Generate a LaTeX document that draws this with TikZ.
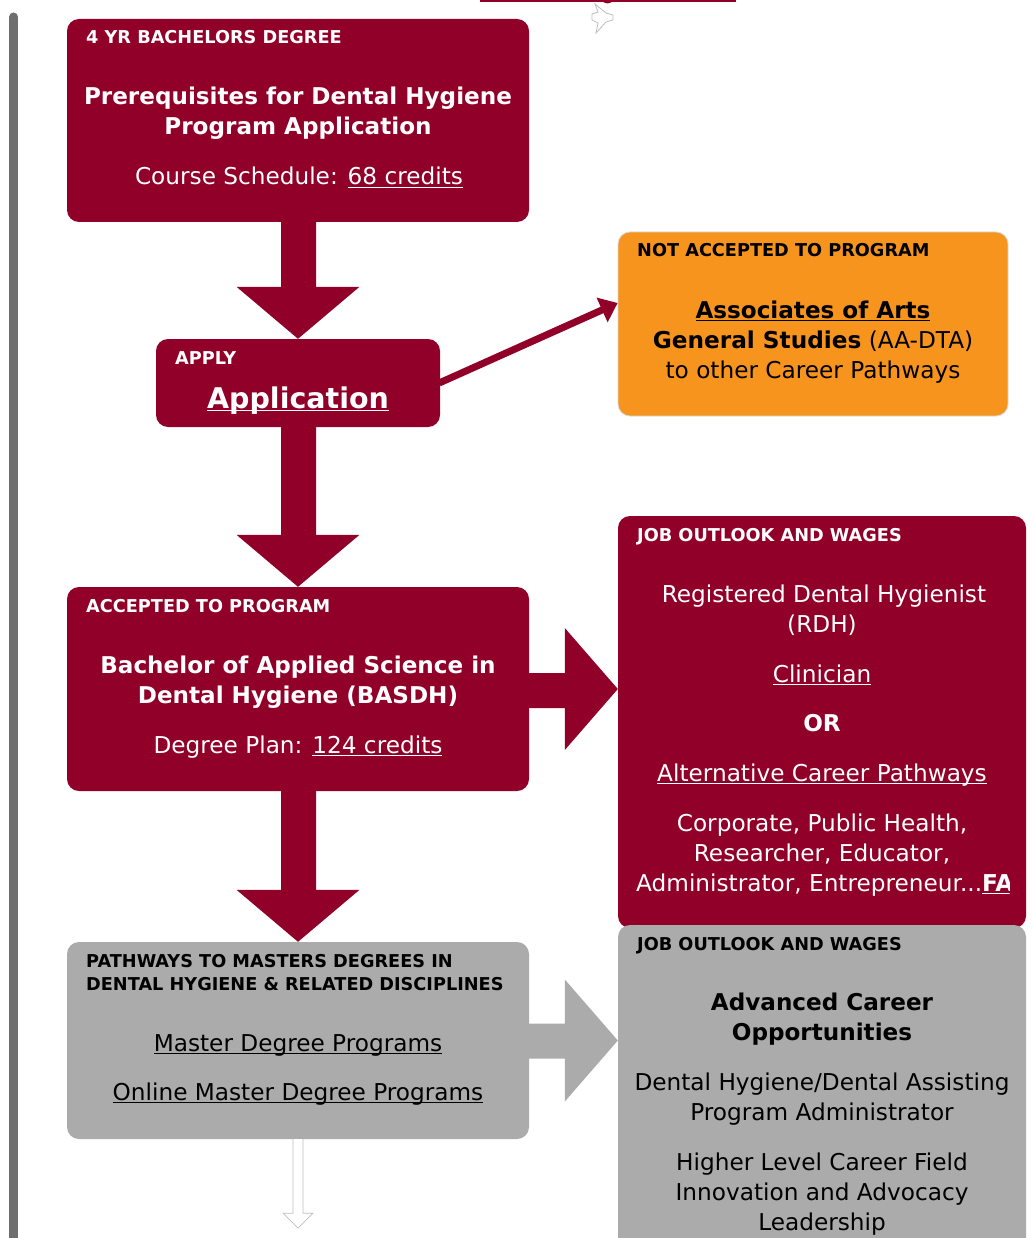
\documentclass[tikz,border=0pt]{standalone}
\usepackage{fontspec}
\setmainfont{DejaVu Sans}
\usetikzlibrary{calc,arrows.meta}
\definecolor{wmaroon}{HTML}{910028}
\definecolor{worange}{HTML}{F7941D}
\definecolor{wgray}{HTML}{ABABAB}
\definecolor{wbar}{HTML}{6E6E6E}
\newsavebox\undlbox
\newcommand\undl[1]{\sbox\undlbox{#1}\rlap{\rule[-3.4pt]{\wd\undlbox}{1.4pt}}\usebox\undlbox}
\tikzset{
  box/.style={rounded corners=12pt, inner sep=0pt, draw=none, minimum width=#1},
  hd/.style={anchor=base west, font=\fontsize{17.7}{21}\selectfont\bfseries, inner sep=0pt},
  tx/.style={anchor=base, font=\fontsize{23.2}{30}\selectfont, inner sep=0pt},
  btx/.style={anchor=base, font=\fontsize{23.1}{30}\selectfont\bfseries, inner sep=0pt},
  bigtx/.style={anchor=base, font=\fontsize{28.5}{34}\selectfont\bfseries, inner sep=0pt},
}
\begin{document}
\begin{tikzpicture}[x=1pt,y=-1pt]
\clip (0,0) rectangle (1033,1238);
\fill[white] (0,0) rectangle (1033,1238);

% left bar
\draw[wbar, line width=9pt, line cap=round] (13.5,17) -- (13.5,1260);
% top fragment
\fill[wmaroon] (480,-2) rectangle (736,2);
\fill[wmaroon] (607.5,0) ellipse (5 and 3.5);
% cursor
\draw[black!25, fill=white, line width=0.8pt] (595,4) -- (606,13) -- (613,15) -- (613,20) -- (606,22) -- (596,33) -- (598,23) -- (592,20) -- (592,14) -- (598,12) -- cycle;

% boxes
\node[box=462pt, minimum height=203pt, fill=wmaroon] (b1) at (298,120.5) {};
\node[box=284pt, minimum height=88pt, fill=wmaroon] (b2) at (298,383) {};
\node[box=390pt, minimum height=184pt, fill=worange, draw=black!15, line width=0.8pt] (b3) at (813,324) {};
\node[box=462pt, minimum height=204pt, fill=wmaroon] (b4) at (298,689) {};
\node[box=408pt, minimum height=412pt, fill=wmaroon] (b5) at (822,722) {};
\node[box=462pt, minimum height=197pt, fill=wgray] (b6) at (298,1040.5) {};
\node[box=408pt, minimum height=335pt, fill=wgray] (b7) at (822,1092.5) {};

% down block arrows
\fill[wmaroon] ($(b1.south)+(-17,-1)$) -- ($(b2.north)+(-17,-52)$) -- ($(b2.north)+(-61.5,-52)$) -- (b2.north) -- ($(b2.north)+(61.5,-52)$) -- ($(b2.north)+(18,-52)$) -- ($(b1.south)+(18,-1)$) -- cycle;
\fill[wmaroon] ($(b2.south)+(-17,-1)$) -- ($(b4.north)+(-17,-52)$) -- ($(b4.north)+(-61.5,-52)$) -- (b4.north) -- ($(b4.north)+(61.5,-52)$) -- ($(b4.north)+(18,-52)$) -- ($(b2.south)+(18,-1)$) -- cycle;
\fill[wmaroon] ($(b4.south)+(-17,-1)$) -- ($(b6.north)+(-17,-52)$) -- ($(b6.north)+(-61.5,-52)$) -- (b6.north) -- ($(b6.north)+(61.5,-52)$) -- ($(b6.north)+(18,-52)$) -- ($(b4.south)+(18,-1)$) -- cycle;

% right block arrows
\coordinate (t1) at (b5.west |- b4.east);
\fill[wmaroon] ($(b4.east)+(-1,-16)$) -- ($(t1)+(-53,-16)$) -- ($(t1)+(-53,-61)$) -- (t1) -- ($(t1)+(-53,61)$) -- ($(t1)+(-53,19)$) -- ($(b4.east)+(-1,19)$) -- cycle;
\coordinate (t2) at (b7.west |- b6.east);
\fill[wgray] ($(b6.east)+(-1,-17)$) -- ($(t2)+(-53,-17)$) -- ($(t2)+(-53,-61)$) -- (t2) -- ($(t2)+(-53,61)$) -- ($(t2)+(-53,18)$) -- ($(b6.east)+(-1,18)$) -- cycle;

% diagonal arrow
\draw[wmaroon, line width=7pt, -{Triangle[length=17pt,width=26pt]}] ($(b2.east)+(-1,0)$) -- ($(b3.west)+(0,-21)$);

% bottom white arrow
\draw[black!25, fill=white, line width=0.7pt] ($(b6.south)+(-5,0)$) -- ($(b6.south)+(-5,74)$) -- ($(b6.south)+(-15,74)$) -- ($(b6.south)+(0,89)$) -- ($(b6.south)+(15,74)$) -- ($(b6.south)+(5,74)$) -- ($(b6.south)+(5,0)$);

% texts in maroon boxes
\begin{scope}[text=white]
\node[hd] (h1) at (86,44) {4 YR BACHELORS DEGREE};
\node[btx] (p1a) at (298,105) {Prerequisites for Dental Hygiene};
\node[btx] (p1b) at (298,135) {Program Application};
\node[tx] (p1c) at (299,185) {Course Schedule: \undl{68 credits}};
% box2
\node[hd] (h2) at (175,364) {APPLY};
\node[bigtx] (p2) at (298,408) {\undl{Application}};
% box4
\node[hd] (h4) at (86,612) {ACCEPTED TO PROGRAM};
\node[btx] (p4a) at (298,673) {Bachelor of Applied Science in};
\node[btx] (p4b) at (298,703) {Dental Hygiene (BASDH)};
\node[tx] (p4c) at (298,753) {Degree Plan: \undl{124 credits}};
% box5
\node[hd] (h5) at (637,541) {JOB OUTLOOK AND WAGES};
\node[tx] (p5a) at (824,602) {Registered Dental Hygienist};
\node[tx] (p5b) at (822,632) {(RDH)};
\node[tx] (p5c) at (822,682) {\undl{Clinician}};
\node[btx] (p5d) at (822,731) {OR};
\node[tx] (p5e) at (822,781) {\undl{Alternative Career Pathways}};
\node[tx] (p5f) at (822,831) {Corporate, Public Health,};
\node[tx] (p5g) at (822,861) {Researcher, Educator,};
\begin{scope}
\clip (600,850) rectangle (1009.5,905);
\node[tx, anchor=base west] (p5h) at (636,891) {Administrator, Entrepreneur...\textbf{\undl{FAQ}}};
\end{scope}
\end{scope}

% box3
\node[hd] (h3) at (637,257) {NOT ACCEPTED TO PROGRAM};
\node[btx] (p3a) at (813,318) {\undl{Associates of Arts}};
\node[tx] (p3b) at (813,348) {\textbf{General Studies} (AA-DTA)};
\node[tx] (p3c) at (813,378) {to other Career Pathways};
% box6
\node[hd] (h6a) at (86,967) {PATHWAYS TO MASTERS DEGREES IN};
\node[hd] (h6b) at (86,990) {DENTAL HYGIENE \& RELATED DISCIPLINES};
\node[tx] (p6a) at (298,1051) {\undl{Master Degree Programs}};
\node[tx] (p6b) at (298,1100) {\undl{Online Master Degree Programs}};
% box7
\node[hd] (h7) at (637,950) {JOB OUTLOOK AND WAGES};
\node[btx] (p7a) at (822,1010) {Advanced Career};
\node[btx] (p7b) at (822,1040) {Opportunities};
\node[tx] (p7c) at (822,1090) {Dental Hygiene/Dental Assisting};
\node[tx] (p7d) at (822,1120) {Program Administrator};
\node[tx] (p7e) at (822,1170) {Higher Level Career Field};
\node[tx] (p7f) at (822,1200) {Innovation and Advocacy};
\node[tx] (p7g) at (822,1230) {Leadership};
\end{tikzpicture}
\end{document}
